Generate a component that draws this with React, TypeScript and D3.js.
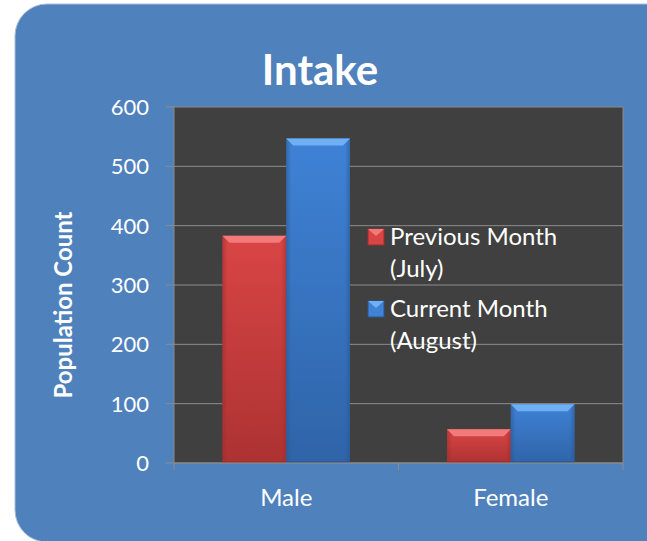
import React from "react";
import * as d3 from "d3";

const categories = ["Male", "Female"];
const seriesNames = ["Previous Month (July)", "Current Month (August)"];
const legendLines = [["Previous Month", "(July)"], ["Current Month", "(August)"]];
const previousMonth = [383, 57];
const currentMonth = [547, 99];
const yTicks = [0, 100, 200, 300, 400, 500, 600];
const title = "Intake";
const yTitle = "Population Count";

const W = 647;
const H = 541;
const plot = { left: 174, top: 107, right: 623, bottom: 463 };
const FONT = "Lato, 'Open Sans', sans-serif";

const palettes = [
  { top: "#d94545", bottom: "#ad3232", bevel: "#f27a7a", side: "#9e2c2c" },
  { top: "#3f82d6", bottom: "#2f64a8", bevel: "#6fb0f5", side: "#29568f" },
];

export default function App() {
  const y = d3.scaleLinear().domain([0, 600]).range([plot.bottom, plot.top]);
  const x0 = d3
    .scaleBand<string>()
    .domain(categories)
    .range([plot.left, plot.right])
    .paddingInner(0.432)
    .paddingOuter(0.216);
  const x1 = d3.scaleBand<number>().domain([0, 1]).range([0, x0.bandwidth()]);
  const series = [previousMonth, currentMonth];

  return (
    <svg
      width={W}
      height={H}
      style={{ position: "absolute", left: 0, top: 0, background: "#ffffff" }}
      fontFamily={FONT}
    >
      <defs>
        {palettes.map((p, i) => (
          <linearGradient key={i} id={`body${i}`} x1="0" y1="0" x2="0" y2="1">
            <stop offset="0" stopColor={p.top} />
            <stop offset="1" stopColor={p.bottom} />
          </linearGradient>
        ))}
        {palettes.map((p, i) => (
          <linearGradient key={"s" + i} id={`side${i}`} x1="0" y1="0" x2="1" y2="0">
            <stop offset="0" stopColor={p.side} stopOpacity={0.55} />
            <stop offset="0.08" stopColor={p.side} stopOpacity={0} />
            <stop offset="0.92" stopColor={p.side} stopOpacity={0} />
            <stop offset="1" stopColor={p.side} stopOpacity={0.55} />
          </linearGradient>
        ))}
      </defs>
      <rect x={15} y={4} width={720} height={538} rx={32} ry={32} fill="#4f81bd" stroke="#a9bcd8" strokeWidth={1} />

      <text x={320} y={85} textAnchor="middle" fill="#ffffff" fontSize={42} fontWeight={700}>
        {title}
      </text>

      <rect
        x={plot.left}
        y={plot.top}
        width={plot.right - plot.left}
        height={plot.bottom - plot.top}
        fill="#404040"
        stroke="#8a8a8a"
        strokeWidth={1}
      />
      {yTicks.map((t) => (
        <g key={t}>
          {t > 0 && t < 600 && (
            <line x1={plot.left} x2={plot.right} y1={y(t)} y2={y(t)} stroke="#8c8c8c" strokeWidth={1} />
          )}
          <line x1={plot.left - 8} x2={plot.left} y1={y(t)} y2={y(t)} stroke="#8c8c8c" strokeWidth={1} />
          <text x={149} y={y(t)} dy="0.36em" textAnchor="end" fill="#ffffff" fontSize={22}>
            {t}
          </text>
        </g>
      ))}

      {categories.map((c, ci) =>
        series.map((vals, si) => {
          const bx = (x0(c) as number) + (x1(si) as number);
          const bw = x1.bandwidth();
          const by = y(vals[ci]);
          const bh = plot.bottom - by;
          const bev = 7;
          return (
            <g key={c + si}>
              <rect x={bx} y={by} width={bw} height={bh} fill={`url(#body${si})`} />
              <rect x={bx} y={by} width={bw} height={bh} fill={`url(#side${si})`} />
              <polygon
                points={`${bx},${by} ${bx + bw},${by} ${bx + bw - bev},${by + bev} ${bx + bev},${by + bev}`}
                fill={palettes[si].bevel}
              />
              <line x1={bx} x2={bx + bw} y1={plot.bottom - 1} y2={plot.bottom - 1} stroke={palettes[si].side} strokeWidth={2} opacity={0.6} />
            </g>
          );
        })
      )}

      <line x1={plot.left} x2={plot.right} y1={plot.bottom} y2={plot.bottom} stroke="#8c8c8c" strokeWidth={1} />
      {[plot.left, (plot.left + plot.right) / 2, plot.right].map((tx, i) => (
        <line key={i} x1={tx} x2={tx} y1={plot.bottom} y2={plot.bottom + 7} stroke="#8c8c8c" strokeWidth={1} />
      ))}
      {categories.map((c) => (
        <text
          key={c}
          x={(x0(c) as number) + x0.bandwidth() / 2}
          y={506}
          textAnchor="middle"
          fill="#ffffff"
          fontSize={24}
        >
          {c}
        </text>
      ))}

      <text
        transform={`translate(72,305) rotate(-90)`}
        textAnchor="middle"
        fill="#ffffff"
        fontSize={24}
        fontWeight={700}
      >
        {yTitle}
      </text>

      {seriesNames.map((name, i) => {
        const base = 245 + i * 72;
        const p = palettes[i];
        return (
          <g key={name}>
            <rect x={368} y={base - 16} width={16} height={16} fill={p.top} stroke={p.side} strokeWidth={1} />
            <polygon
              points={`368,${base - 16} 384,${base - 16} 376,${base - 9}`}
              fill={p.bevel}
            />
            {legendLines[i].map((ln, li) => (
              <text key={li} x={390} y={base + li * 32} fill="#ffffff" fontSize={24}>
                {ln}
              </text>
            ))}
          </g>
        );
      })}
    </svg>
  );
}
